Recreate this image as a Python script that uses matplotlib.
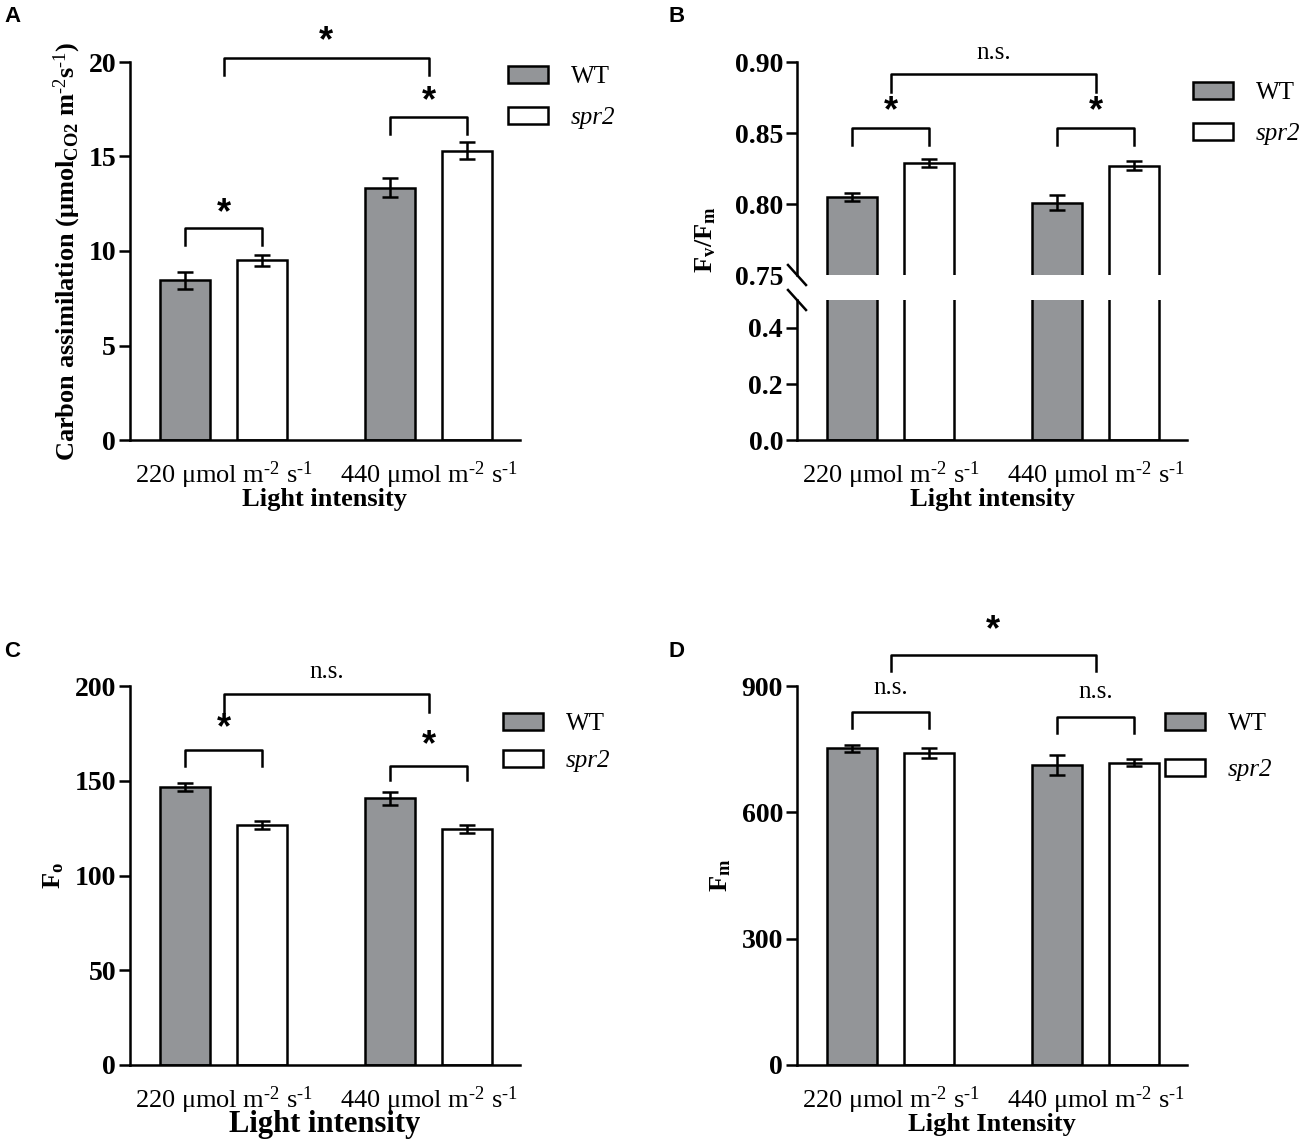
import matplotlib
matplotlib.use('Agg')
import matplotlib.pyplot as plt
import numpy as np

plt.rcParams['font.family'] = ['Liberation Serif', 'DejaVu Serif']
plt.rcParams['mathtext.fontset'] = 'custom'
plt.rcParams['mathtext.rm'] = 'Liberation Serif'
plt.rcParams['mathtext.it'] = 'Liberation Serif:italic'
plt.rcParams['mathtext.bf'] = 'Liberation Serif:bold'
plt.rcParams['mathtext.default'] = 'regular'

# --- data ---
groups = [r'220 μmol m$^{\text{-2}}$ s$^{\text{-1}}$', r'440 μmol m$^{\text{-2}}$ s$^{\text{-1}}$']
genotypes = ['WT', 'spr2']

carbon_wt = [8.45, 13.35]
carbon_wt_err = [0.45, 0.5]
carbon_spr2 = [9.5, 15.3]
carbon_spr2_err = [0.3, 0.45]

fvfm_wt = [0.805, 0.801]
fvfm_wt_err = [0.003, 0.005]
fvfm_spr2 = [0.829, 0.827]
fvfm_spr2_err = [0.003, 0.003]

fo_wt = [146.7, 140.8]
fo_wt_err = [2.3, 3.5]
fo_spr2 = [126.6, 124.5]
fo_spr2_err = [2.2, 2.0]

fm_wt = [752, 713]
fm_wt_err = [8, 24]
fm_spr2 = [741, 718]
fm_spr2_err = [12, 8]

GRAY = '#939598'
LW = 1.8
W = 0.244
OFF = 0.188
x = np.arange(len(groups))

fig = plt.figure(figsize=(13.02, 11.4), dpi=100)


def fx(px):
    return px / 1302


def fy(py):
    return 1 - py / 1140


def style_ax(ax):
    for s in ['top', 'right']:
        ax.spines[s].set_visible(False)
    for s in ['left', 'bottom']:
        ax.spines[s].set_linewidth(LW)
    ax.tick_params(axis='y', length=8, width=LW, labelsize=20, pad=2)
    ax.tick_params(axis='x', length=0, labelsize=19, pad=14)
    for lab in ax.get_yticklabels():
        lab.set_fontweight('bold')
    ax.set_xlim(-0.456, 1.444)


def draw_bars(ax, wt, wt_err, sp, sp_err):
    ax.bar(x - OFF, wt, W, color=GRAY, edgecolor='black', linewidth=LW, label='WT', zorder=2)
    ax.bar(x + OFF, sp, W, color='white', edgecolor='black', linewidth=LW, label='spr2', zorder=2)
    ax.errorbar(x - OFF, wt, yerr=wt_err, fmt='none', ecolor='black', elinewidth=LW,
                capsize=6, capthick=LW, zorder=3)
    ax.errorbar(x + OFF, sp, yerr=sp_err, fmt='none', ecolor='black', elinewidth=LW,
                capsize=6, capthick=LW, zorder=3)


def bracket(ax, x1, x2, y, leg, label, ly):
    ax.plot([x1, x1, x2, x2], [leg, y, y, leg], color='black', lw=LW, clip_on=False)
    xm = (x1 + x2) / 2
    if label == '*':
        ax.text(xm, ly, '*', ha='center', va='center', fontsize=26, fontweight='bold',
                family='Liberation Sans', clip_on=False)
    else:
        ax.text(xm, ly, label, ha='center', va='center', fontsize=18, clip_on=False)


def add_legend(ax, px, py, spacing=0.75):
    h, l = ax.get_legend_handles_labels()
    leg = fig.legend(h[:2], genotypes, loc='upper left',
                     bbox_to_anchor=(fx(px), fy(py)), frameon=False, fontsize=18,
                     handlelength=1.6, handleheight=0.65, handletextpad=0.9,
                     labelspacing=spacing, borderpad=0, borderaxespad=0)
    leg.get_texts()[1].set_fontstyle('italic')


def set_xticks(ax):
    ax.set_xticks(x)
    ax.set_xticklabels(groups)


# ---------- A ----------
axA = fig.add_axes([fx(130), fy(440), fx(390), (440 - 62) / 1140])
draw_bars(axA, carbon_wt, carbon_wt_err, carbon_spr2, carbon_spr2_err)
axA.set_ylim(0, 20)
axA.set_yticks([0, 5, 10, 15, 20])
style_ax(axA)
set_xticks(axA)
axA.set_xlabel('Light intensity', fontsize=19, fontweight='bold', labelpad=-2)
axA.set_ylabel(r'Carbon assimilation (μmol$_{CO2}$ m$^{\text{-2}}$s$^{\text{-1}}$)', fontsize=19,
               fontweight='bold', labelpad=4)
bracket(axA, x[0] - OFF, x[0] + OFF, 11.2, 10.3, '*', 12.0)
bracket(axA, x[1] - OFF, x[1] + OFF, 17.1, 16.2, '*', 17.9)
bracket(axA, x[0], x[1], 20.2, 19.3, '*', 21.1)
add_legend(axA, 508, 66)

# ---------- B (broken axis) ----------
axBt = fig.add_axes([fx(797), fy(275), fx(390), (275 - 62) / 1140])
axBb = fig.add_axes([fx(797), fy(440), fx(390), (440 - 300) / 1140])
for ax in (axBt, axBb):
    draw_bars(ax, fvfm_wt, fvfm_wt_err, fvfm_spr2, fvfm_spr2_err)
axBt.set_ylim(0.75, 0.90)
axBt.set_yticks([0.75, 0.80, 0.85, 0.90])
axBt.set_yticklabels(['0.75', '0.80', '0.85', '0.90'])
axBb.set_ylim(0, 0.5)
axBb.set_yticks([0.0, 0.2, 0.4])
axBb.set_yticklabels(['0.0', '0.2', '0.4'])
style_ax(axBt)
style_ax(axBb)
axBt.spines['bottom'].set_visible(False)
axBt.set_xticks([])
axBt.yaxis.get_major_ticks()[0].tick1line.set_visible(False)
set_xticks(axBb)
axBb.set_xlabel('Light intensity', fontsize=19, fontweight='bold', labelpad=-2)
# break marks on y-axis
for yb in (275, 300):
    fig.add_artist(plt.Line2D([fx(797 - 9), fx(797 + 9)], [fy(yb - 10), fy(yb + 10)],
                              color='black', lw=LW))
fig.text(fx(706), fy(240), 'F$_v$/F$_m$', rotation=90, ha='center', va='center',
         fontsize=19, fontweight='bold')
bracket(axBt, x[0] - OFF, x[0] + OFF, 0.8535, 0.8415, '*', 0.865)
bracket(axBt, x[1] - OFF, x[1] + OFF, 0.8535, 0.8415, '*', 0.865)
bracket(axBt, x[0], x[1], 0.8915, 0.879, 'n.s.', 0.906)
add_legend(axBt, 1193, 82)

# ---------- C ----------
axC = fig.add_axes([fx(130), fy(1065), fx(390), (1065 - 686) / 1140])
draw_bars(axC, fo_wt, fo_wt_err, fo_spr2, fo_spr2_err)
axC.set_ylim(0, 200)
axC.set_yticks([0, 50, 100, 150, 200])
style_ax(axC)
set_xticks(axC)
axC.set_xlabel('Light intensity', fontsize=22, fontweight='bold', labelpad=-4)
axC.set_ylabel('F$_o$', fontsize=19, fontweight='bold', labelpad=6)
bracket(axC, x[0] - OFF, x[0] + OFF, 166.2, 157.8, '*', 177.5)
bracket(axC, x[1] - OFF, x[1] + OFF, 157.8, 150.4, '*', 168.5)
bracket(axC, x[0], x[1], 195.8, 186.3, 'n.s.', 207.4)
add_legend(axC, 503, 713, spacing=0.6)

# ---------- D ----------
axD = fig.add_axes([fx(797), fy(1065), fx(390), (1065 - 686) / 1140])
draw_bars(axD, fm_wt, fm_wt_err, fm_spr2, fm_spr2_err)
axD.set_ylim(0, 900)
axD.set_yticks([0, 300, 600, 900])
style_ax(axD)
set_xticks(axD)
axD.set_xlabel('Light Intensity', fontsize=19, fontweight='bold', labelpad=-2)
axD.set_ylabel('F$_m$', fontsize=19, fontweight='bold', labelpad=6)
bracket(axD, x[0] - OFF, x[0] + OFF, 838.9, 800.8, 'n.s.', 896)
bracket(axD, x[1] - OFF, x[1] + OFF, 827, 789, 'n.s.', 884.6)
bracket(axD, x[0], x[1], 974.7, 936.7, '*', 1032)
add_legend(axD, 1165, 713, spacing=0.95)

# panel letters
for lab, px, py in [('A', 4, 6), ('B', 668, 6), ('C', 4, 641), ('D', 668, 641)]:
    fig.text(fx(px), fy(py), lab, ha='left', va='top', fontsize=16, fontweight='bold',
             family='Liberation Sans')

fig.savefig('out.png', dpi=100, facecolor='white')
